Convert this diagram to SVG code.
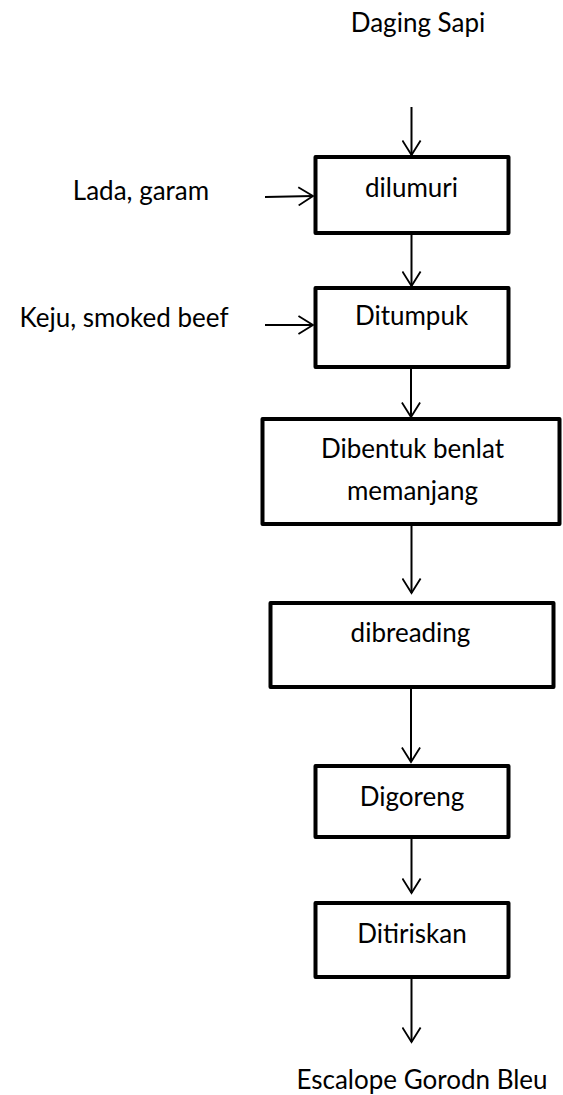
<svg xmlns="http://www.w3.org/2000/svg" width="563" height="1095" viewBox="0 0 563 1095">
<defs>
<marker id="arr" markerUnits="userSpaceOnUse" markerWidth="24" markerHeight="20" viewBox="-18 -11 20 22" refX="0" refY="0" orient="auto">
<path d="M-16,-10 L0,0 L-16,10" fill="none" stroke="#000" stroke-width="2"/>
</marker>
</defs>
<style>
.box{fill:#fff;stroke:#000;stroke-width:4;stroke-linejoin:round}
.t{font-family:Lato,"Liberation Sans",sans-serif;font-size:26px;fill:#000;text-anchor:middle}
.c{fill:none;stroke:#000;stroke-width:2;marker-end:url(#arr)}
</style>
<rect width="563" height="1095" fill="#fff"/>
<g id="connectors">
<line class="c" x1="411.5" y1="107" x2="411.5" y2="155"/>
<line class="c" x1="265" y1="197" x2="313" y2="196"/>
<line class="c" x1="411.5" y1="235" x2="411.5" y2="286"/>
<line class="c" x1="265" y1="325" x2="313" y2="325"/>
<line class="c" x1="411" y1="369" x2="411" y2="417"/>
<line class="c" x1="411.5" y1="526" x2="411.5" y2="593"/>
<line class="c" x1="411" y1="689" x2="411" y2="762"/>
<line class="c" x1="411.5" y1="839" x2="411.5" y2="893"/>
<line class="c" x1="411.5" y1="975" x2="411.5" y2="1042"/>
</g>
<g id="daging"><text class="t" x="418" y="32">Daging Sapi</text></g>
<g id="lada"><text class="t" x="141" y="200">Lada, garam</text></g>
<g id="keju"><text class="t" x="124" y="327">Keju, smoked beef</text></g>
<g id="dilumuri"><rect class="box" x="315.5" y="157" width="193" height="76"/><text class="t" x="411.5" y="197">dilumuri</text></g>
<g id="ditumpuk"><rect class="box" x="315.5" y="288" width="193" height="79"/><text class="t" x="411.5" y="325">Ditumpuk</text></g>
<g id="dibentuk"><rect class="box" x="262.5" y="419" width="297" height="105"/><text class="t" x="412.5" y="458">Dibentuk benlat</text><text class="t" x="412.5" y="500">memanjang</text></g>
<g id="dibreading"><rect class="box" x="270.5" y="603" width="283" height="84"/><text class="t" x="410.5" y="642">dibreading</text></g>
<g id="digoreng"><rect class="box" x="315.5" y="766" width="193" height="71"/><text class="t" x="412" y="806">Digoreng</text></g>
<g id="ditiriskan"><rect class="box" x="315.5" y="903" width="193" height="74"/><text class="t" x="412" y="943">Ditiriskan</text></g>
<g id="escalope"><text class="t" x="422" y="1089">Escalope Gorodn Bleu</text></g>
</svg>
